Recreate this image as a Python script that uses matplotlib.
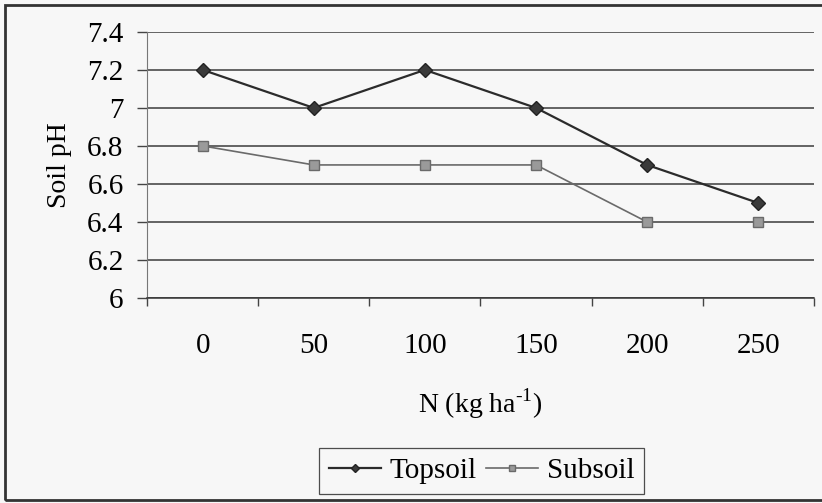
"""
Soil pH vs applied N, topsoil and subsoil
"""

import matplotlib
matplotlib.use('Agg')
import matplotlib.pyplot as plt
from matplotlib.patches import Rectangle

# data
n_rates = ['0', '50', '100', '150', '200', '250']
topsoil = [7.2, 7.0, 7.2, 7.0, 6.7, 6.5]
subsoil = [6.8, 6.7, 6.7, 6.7, 6.4, 6.4]
y_ticks = [6, 6.2, 6.4, 6.6, 6.8, 7, 7.2, 7.4]

plt.rcParams['font.family'] = 'Liberation Serif'
plt.rcParams['mathtext.fontset'] = 'custom'
plt.rcParams['mathtext.rm'] = 'Liberation Serif'

fig = plt.figure(figsize=(8.22, 5.03), dpi=100)
fig.patch.set_facecolor('#f7f7f7')
ax = fig.add_axes([0.179, 0.4076, 0.811, 0.529])
ax.set_facecolor('none')

x = list(range(len(n_rates)))
ax.plot(x, topsoil, color='#2b2b2b', linewidth=1.6, marker='D', markersize=7,
        markerfacecolor='#3a3a3a', markeredgecolor='#222222', label='Topsoil')
ax.plot(x, subsoil, color='#6a6a6a', linewidth=1.2, marker='s', markersize=7,
        markerfacecolor='#9a9a9a', markeredgecolor='#6a6a6a', label='Subsoil')

ax.set_xlim(-0.5, len(n_rates) - 0.5)
ax.set_ylim(6, 7.4)
ax.set_yticks(y_ticks)
ax.set_yticklabels([f'{v:g}' for v in y_ticks])
ax.set_xticks(x)
ax.set_xticklabels(n_rates)
ax.set_xticks([i - 0.5 for i in range(len(n_rates) + 1)], minor=True)

ax.grid(axis='y', color='#3c3c3c', linewidth=1.1)
ax.set_axisbelow(True)

for s in ['top', 'right']:
    ax.spines[s].set_visible(False)
ax.spines['left'].set_color('#777777')
ax.spines['left'].set_linewidth(0.8)
ax.spines['bottom'].set_color('#333333')
ax.spines['bottom'].set_linewidth(1.1)

ax.tick_params(axis='y', direction='out', length=7, width=1.0, color='#444444',
               labelsize=21, pad=10)
ax.tick_params(axis='x', which='major', length=0, labelsize=21, pad=25)
ax.tick_params(axis='x', which='minor', direction='out', length=6, width=1.0,
               color='#444444')

ax.set_ylabel('Soil pH', fontsize=20, labelpad=11)
ax.set_xlabel(r'N (kg ha$^{\text{-}1}$)', fontsize=20, labelpad=20)

leg = fig.legend(loc='center', bbox_to_anchor=(0.586, 0.0636), ncol=2, fontsize=21,
                 frameon=True, fancybox=False, edgecolor='#222222',
                 handlelength=1.8, handletextpad=0.3, columnspacing=0.3,
                 borderpad=0.32, borderaxespad=0, markerscale=0.6)
leg.get_frame().set_linewidth(0.9)
leg.get_frame().set_facecolor('#f7f7f7')

# outer frame of the scanned figure
fig.add_artist(Rectangle((0.006, 0.006), 1.1, 0.984, transform=fig.transFigure,
                         fill=False, edgecolor='#333333', linewidth=2.0))

fig.savefig('out.png', dpi=100, facecolor=fig.get_facecolor())
